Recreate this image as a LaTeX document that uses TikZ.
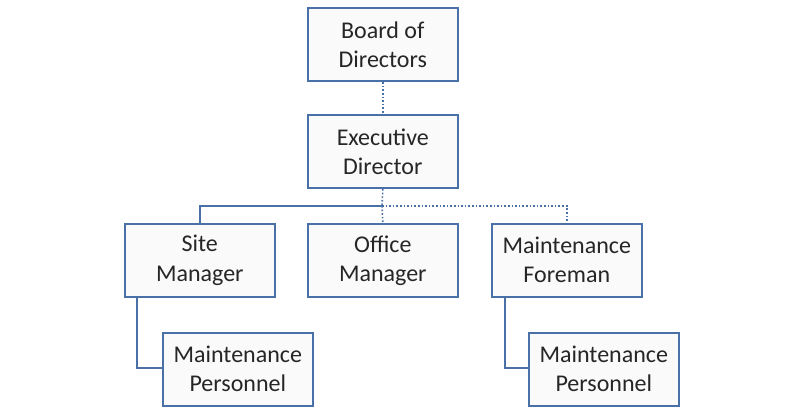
\documentclass[tikz,border=0pt]{standalone}
\usepackage{fontspec}
\setmainfont{Carlito}
\begin{document}
\begin{tikzpicture}[x=1pt,y=-1pt,
  box/.style={draw=boxblue,line width=2.6pt,fill=boxfill,minimum width=150pt,minimum height=73pt,align=center,font=\fontsize{24}{29}\selectfont,text=black!85,anchor=north west,inner sep=0pt},
  conn/.style={draw=boxblue,line width=1.6pt},
  dconn/.style={draw=boxblue,line width=1.6pt,dotted}]
\definecolor{boxblue}{HTML}{4A70A8}
\definecolor{boxfill}{HTML}{FAFAFA}
\useasboundingbox (0,0) rectangle (800,413);
\node[box] (bod) at (306.5,6.5) {Board of\\Directors};
\node[box] (ed) at (306.5,113.5) {Executive\\Director};
\node[box] (sm) at (123.5,222.5) {Site\\Manager};
\node[box] (om) at (306.5,222.5) {Office\\Manager};
\node[box] (mf) at (490.5,222.5) {Maintenance\\Foreman};
\node[box] (mp1) at (161.5,331.5) {Maintenance\\Personnel};
\node[box] (mp2) at (527.5,331.5) {Maintenance\\Personnel};
\coordinate (j) at (382,206);
\draw[dconn] (bod.south) -- (ed.north);
\draw[dconn] (ed.south) -- (j);
\draw[dconn] (j) -- (om.north);
\draw[conn] (j) -| (sm.north);
\draw[dconn] (j) -| (mf.north);
\coordinate (a1) at (137,368);
\coordinate (a2) at (505,368);
\draw[conn] (sm.south -| a1) -- (a1) -- (mp1.west |- a1);
\draw[conn] (mf.south -| a2) -- (a2) -- (mp2.west |- a2);
\end{tikzpicture}
\end{document}
